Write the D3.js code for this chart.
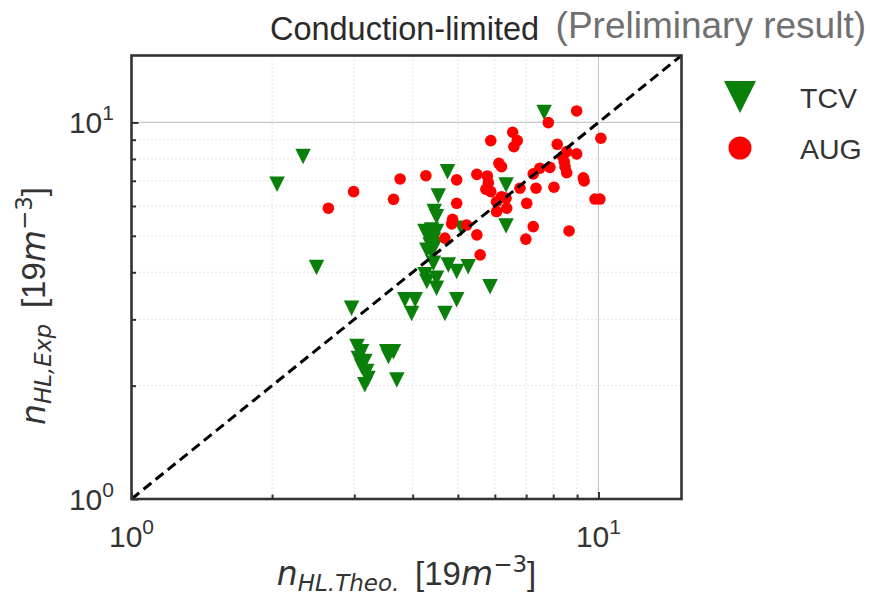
<!DOCTYPE html>
<html>
<head>
<meta charset="utf-8">
<script src="https://cdn.jsdelivr.net/npm/d3@7/dist/d3.min.js"></script>
<style>
  html, body { margin: 0; padding: 0; background: #fff; }
  svg { display: block; }
</style>
</head>
<body>
<svg id="chart" width="870" height="598"></svg>
<script>
// ---- data ----
const tcvX = [2.33, 2.05, 2.49, 4.75, 4.54, 4.45, 4.50, 6.34, 6.34, 7.65, 5.09,
  4.25, 4.39, 4.50, 4.32, 4.43, 4.36, 4.47, 4.29, 4.39, 4.43, 4.77, 4.97, 5.26,
  4.25, 4.50, 4.50, 4.29, 5.86, 3.85, 4.05, 3.98, 4.97, 4.69, 2.96, 3.04, 3.11,
  3.06, 3.16, 3.11, 3.19, 3.21, 3.16, 3.52, 3.64, 3.55, 3.70];
const tcvY = [8.12, 6.85, 4.12, 7.40, 6.38, 5.80, 5.62, 6.82, 5.31, 10.62, 5.24,
  5.13, 5.18, 5.13, 4.97, 4.87, 4.73, 4.73, 4.58, 4.54, 4.23, 4.18, 4.02, 4.14,
  3.94, 3.86, 3.63, 3.78, 3.66, 3.38, 3.38, 3.11, 3.38, 3.11, 3.21, 2.54, 2.46,
  2.36, 2.32, 2.25, 2.18, 2.09, 2.01, 2.46, 2.46, 2.39, 2.07];
const augX = [2.64, 2.99, 3.64, 3.76, 4.27, 4.97, 5.49, 5.78, 5.81, 5.74, 5.88,
  6.12, 6.20, 5.88, 6.55, 6.70, 6.59, 7.81, 8.98, 10.12, 8.16, 8.55, 8.98, 8.38,
  8.45, 8.48, 8.55, 7.87, 7.49, 7.25, 9.28, 9.32, 9.83, 10.07, 7.35, 8.03, 6.79,
  6.20, 6.34, 6.05, 6.36, 6.05, 7.02, 4.97, 4.87, 4.85, 5.22, 5.49, 4.69, 6.99,
  7.25, 8.65, 5.58];
const augY = [5.92, 6.55, 6.25, 7.08, 7.22, 7.04, 7.28, 7.21, 6.92, 6.65, 6.55,
  7.79, 7.63, 8.95, 9.42, 8.95, 8.62, 9.99, 10.73, 9.08, 8.75, 8.37, 8.25, 8.12,
  7.87, 7.63, 7.36, 7.60, 7.56, 7.30, 7.13, 6.99, 6.26, 6.26, 6.69, 6.73, 6.69,
  6.35, 6.29, 6.16, 5.92, 5.80, 6.10, 6.10, 5.53, 5.38, 5.34, 5.03, 4.93, 4.90,
  5.29, 5.15, 4.45];
const domainMin = 1, domainMax = 15.06;
const majorTicks = [1, 10];
const majorTickLabels = ["0", "1"];   // exponents of 10
const minorTicks = [2, 3, 4, 5, 6, 7, 8, 9];
const seriesNames = ["TCV", "AUG"];
const titleText = "Conduction-limited";
const noteText = "(Preliminary result)";

// ---- layout ----
const svg = d3.select("#chart");
const L = 131.5, R = 681.5, T = 55.5, B = 499;
const x = d3.scaleLog().domain([domainMin, domainMax]).range([L, R]);
const y = d3.scaleLog().domain([domainMin, domainMax]).range([B, T]);
const green = "#0a800a", red = "#ff0000";
const sans = "'Liberation Sans', Arial, sans-serif";
const math = "'DejaVu Sans', sans-serif";
const textCol = "#2a2a2a";

// grid: minor dotted
const grid = svg.append("g");
grid.selectAll(".mx").data(minorTicks).enter().append("line")
  .attr("x1", d => x(d)).attr("x2", d => x(d)).attr("y1", T).attr("y2", B)
  .attr("stroke", "#dcdcdc").attr("stroke-width", 1).attr("stroke-dasharray", "1.5,2.5");
grid.selectAll(".my").data(minorTicks).enter().append("line")
  .attr("y1", d => y(d)).attr("y2", d => y(d)).attr("x1", L).attr("x2", R)
  .attr("stroke", "#dcdcdc").attr("stroke-width", 1).attr("stroke-dasharray", "1.5,2.5");
// grid: major solid
grid.selectAll(".Mx").data(majorTicks.filter(d => d > domainMin)).enter().append("line")
  .attr("x1", d => x(d)).attr("x2", d => x(d)).attr("y1", T).attr("y2", B)
  .attr("stroke", "#c8c8c8").attr("stroke-width", 1.2);
grid.selectAll(".My").data(majorTicks.filter(d => d > domainMin)).enter().append("line")
  .attr("y1", d => y(d)).attr("y2", d => y(d)).attr("x1", L).attr("x2", R)
  .attr("stroke", "#c8c8c8").attr("stroke-width", 1.2);

// scatter
const tcv = tcvX.map((v, i) => [v, tcvY[i]]);
const aug = augX.map((v, i) => [v, augY[i]]);
const triPath = (s) => `M${-s/2},${-s/2}L${s/2},${-s/2}L0,${s/2}Z`;
svg.append("g").selectAll("path").data(tcv).enter().append("path")
  .attr("d", triPath(15.5))
  .attr("transform", d => `translate(${x(d[0])},${y(d[1])})`)
  .attr("fill", green);
svg.append("g").selectAll("circle").data(aug).enter().append("circle")
  .attr("cx", d => x(d[0])).attr("cy", d => y(d[1])).attr("r", 5.8)
  .attr("fill", red);

// diagonal
svg.append("line")
  .attr("x1", x(domainMin)).attr("y1", y(domainMin))
  .attr("x2", x(domainMax)).attr("y2", y(domainMax))
  .attr("stroke", "#000").attr("stroke-width", 3).attr("stroke-dasharray", "10,5.5");

// axes ticks (inward)
const axL = d3.axisLeft(y).tickValues(majorTicks).tickSize(-7).tickFormat("");
const axLm = d3.axisLeft(y).tickValues(minorTicks).tickSize(-4.5).tickFormat("");
const axB = d3.axisBottom(x).tickValues(majorTicks).tickSize(-7).tickFormat("");
const axBm = d3.axisBottom(x).tickValues(minorTicks).tickSize(-4.5).tickFormat("");
[[axL, `translate(${L},0)`], [axLm, `translate(${L},0)`], [axB, `translate(0,${B})`], [axBm, `translate(0,${B})`]]
  .forEach(([ax, tr]) => {
    const g = svg.append("g").attr("transform", tr).call(ax);
    g.select(".domain").remove();
    g.selectAll("line").attr("stroke", "#333").attr("stroke-width", 2);
  });

// frame
svg.append("rect").attr("x", L).attr("y", T).attr("width", R - L).attr("height", B - T)
  .attr("fill", "none").attr("stroke", "#333").attr("stroke-width", 2.6);

// tick labels
function tenPow(sel, exp) {
  sel.append("tspan").text("10");
  sel.append("tspan").attr("font-size", 21).attr("dy", -13).text(exp);
}
majorTicks.forEach((v, i) => {
  const t = svg.append("text").attr("x", 114).attr("y", y(v) + 11)
    .attr("text-anchor", "end").attr("font-family", sans).attr("font-size", 30)
    .attr("fill", "#333");
  tenPow(t, majorTickLabels[i]);
  const tb = svg.append("text").attr("x", x(v)).attr("y", 547)
    .attr("text-anchor", "middle").attr("font-family", sans).attr("font-size", 30)
    .attr("fill", "#333");
  tenPow(tb, majorTickLabels[i]);
});

// axis labels
function axisLabel(sel, sub) {
  sel.append("tspan").attr("font-family", math).attr("font-style", "italic").text("n");
  sel.append("tspan").attr("font-family", math).attr("font-style", "italic")
    .attr("font-size", 23).attr("dy", 6).text(sub);
  sel.append("tspan").attr("dy", -6).attr("font-family", sans).text("\u2009 [19");
  sel.append("tspan").attr("font-family", math).attr("font-style", "italic").text("m");
  sel.append("tspan").attr("font-family", math).attr("font-size", 23).attr("dy", -13).text("\u22123");
  sel.append("tspan").attr("font-family", sans).attr("dy", 13).text("]");
}
const xl = svg.append("text").attr("x", (L + R) / 2).attr("y", 585)
  .attr("text-anchor", "middle").attr("font-size", 33).attr("fill", "#333");
axisLabel(xl, "HL.Theo.");
const yl = svg.append("text").attr("transform", `translate(45,306) rotate(-90)`)
  .attr("text-anchor", "middle").attr("font-size", 33).attr("fill", "#333");
axisLabel(yl, "HL,Exp");

// title
svg.append("text").attr("x", (L + R) / 2 - 2).attr("y", 40).attr("text-anchor", "middle")
  .attr("font-family", sans).attr("font-size", 32.5).attr("fill", textCol).text(titleText);
svg.append("text").attr("x", 866).attr("y", 38).attr("text-anchor", "end")
  .attr("font-family", sans).attr("font-size", 37).attr("fill", "#707070").text(noteText);

// legend
const lg = svg.append("g");
lg.append("path").attr("d", triPath(32)).attr("transform", "translate(740,97)").attr("fill", green);
lg.append("circle").attr("cx", 740).attr("cy", 148).attr("r", 11.5).attr("fill", red);
lg.append("text").attr("x", 800).attr("y", 108).attr("font-family", sans).attr("font-size", 28.5)
  .attr("fill", "#333").text(seriesNames[0]);
lg.append("text").attr("x", 800).attr("y", 159).attr("font-family", sans).attr("font-size", 28.5)
  .attr("fill", "#333").text(seriesNames[1]);
</script>
</body>
</html>
